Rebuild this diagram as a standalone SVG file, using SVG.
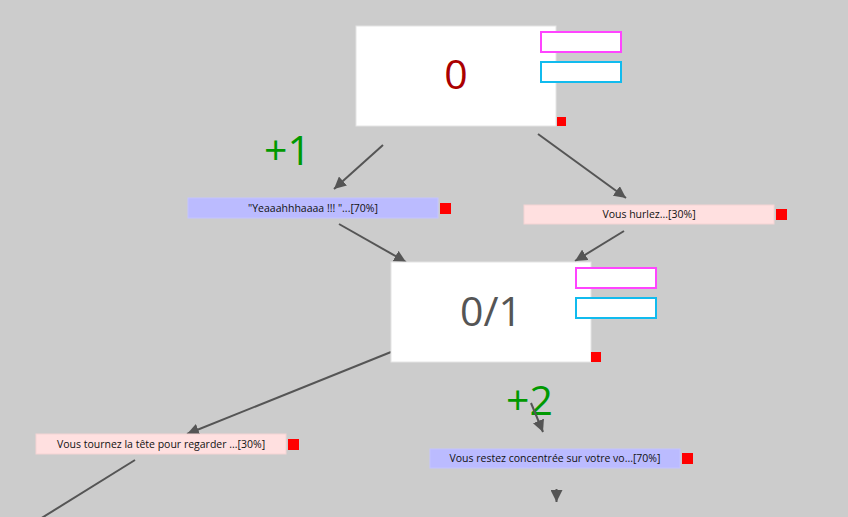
<svg xmlns="http://www.w3.org/2000/svg" width="848" height="517" viewBox="0 0 848 517">
<style>
.node{fill:#fff;stroke:#e4e4e4;stroke-width:1}
.pk{fill:#fff;stroke:#ff44ff;stroke-width:2}
.cy{fill:#fff;stroke:#11bbee;stroke-width:2}
.red{fill:#ff0000}
.big{font-family:"Open Sans","Liberation Sans",sans-serif;font-size:41px;text-anchor:middle}
.lab{font-family:"Open Sans","Liberation Sans",sans-serif;font-size:10.5px;text-anchor:middle;fill:#111}
.good{fill:#bbbbff;stroke:#c4c4ff;stroke-width:1}
.bad{fill:#ffe0e0;stroke:#f4d4d4;stroke-width:1}
.gain{font-family:"Open Sans","Liberation Sans",sans-serif;font-size:41px;fill:#009900}
.cn{stroke:#555;stroke-width:2;fill:none;marker-end:url(#ah)}
</style>
<defs>
<marker id="ah" markerWidth="12" markerHeight="12" viewBox="0 0 12 12" refX="12" refY="6" orient="auto" markerUnits="userSpaceOnUse">
<path d="M0,0 L12,6 L0,12 z" fill="#555"/>
</marker>
</defs>
<rect width="848" height="517" fill="#cccccc"/>
<g id="gain-1"><text class="gain" x="264" y="165">+1</text></g>
<g id="gain-2"><text class="gain" x="506" y="415">+2</text></g>
<g id="connectors">
<path class="cn" d="M383,145 L334,189"/>
<path class="cn" d="M538,134 L626,198"/>
<path class="cn" d="M339,224 L406,262"/>
<path class="cn" d="M624,231 L575,261"/>
<path class="cn" d="M391,352 L187,434"/>
<path stroke="#555" stroke-width="2" d="M135,460 L40,519"/>
<path class="cn" d="M531,403 L543,432"/>
<path class="cn" d="M556.5,489 L556.5,502"/>
</g>
<g id="node-0">
<rect class="node" x="356" y="26" width="200" height="100"/>
<rect class="pk" x="541" y="32" width="80" height="20"/>
<rect class="cy" x="541" y="62" width="80" height="20"/>
<rect class="red" x="557" y="117" width="9" height="9"/>
<text class="big" x="456" y="89" fill="#aa0000">0</text>
</g>
<g id="choice-yeah">
<rect class="good" x="188" y="198" width="250" height="20"/>
<rect class="red" x="440" y="203" width="11" height="11"/>
<text class="lab" x="313" y="212">"Yeaaahhhaaaa !!! "...[70%]</text>
</g>
<g id="choice-hurlez">
<rect class="bad" x="524" y="205" width="250" height="19"/>
<rect class="red" x="776" y="209" width="11" height="11"/>
<text class="lab" x="649" y="218">Vous hurlez...[30%]</text>
</g>
<g id="node-01">
<rect class="node" x="391" y="262" width="200" height="100"/>
<rect class="pk" x="576" y="268" width="80" height="20"/>
<rect class="cy" x="576" y="298" width="80" height="20"/>
<rect class="red" x="591" y="352" width="10" height="10"/>
<text class="big" x="491" y="326" fill="#555555">0/1</text>
</g>
<g id="choice-tourner">
<rect class="bad" x="36" y="434" width="250" height="20"/>
<rect class="red" x="288" y="439" width="11" height="11"/>
<text class="lab" x="161" y="448">Vous tournez la tête pour regarder ...[30%]</text>
</g>
<g id="choice-concentree">
<rect class="good" x="430" y="449" width="250" height="19"/>
<rect class="red" x="682" y="453" width="11" height="11"/>
<text class="lab" x="555" y="462">Vous restez concentrée sur votre vo...[70%]</text>
</g>
</svg>
